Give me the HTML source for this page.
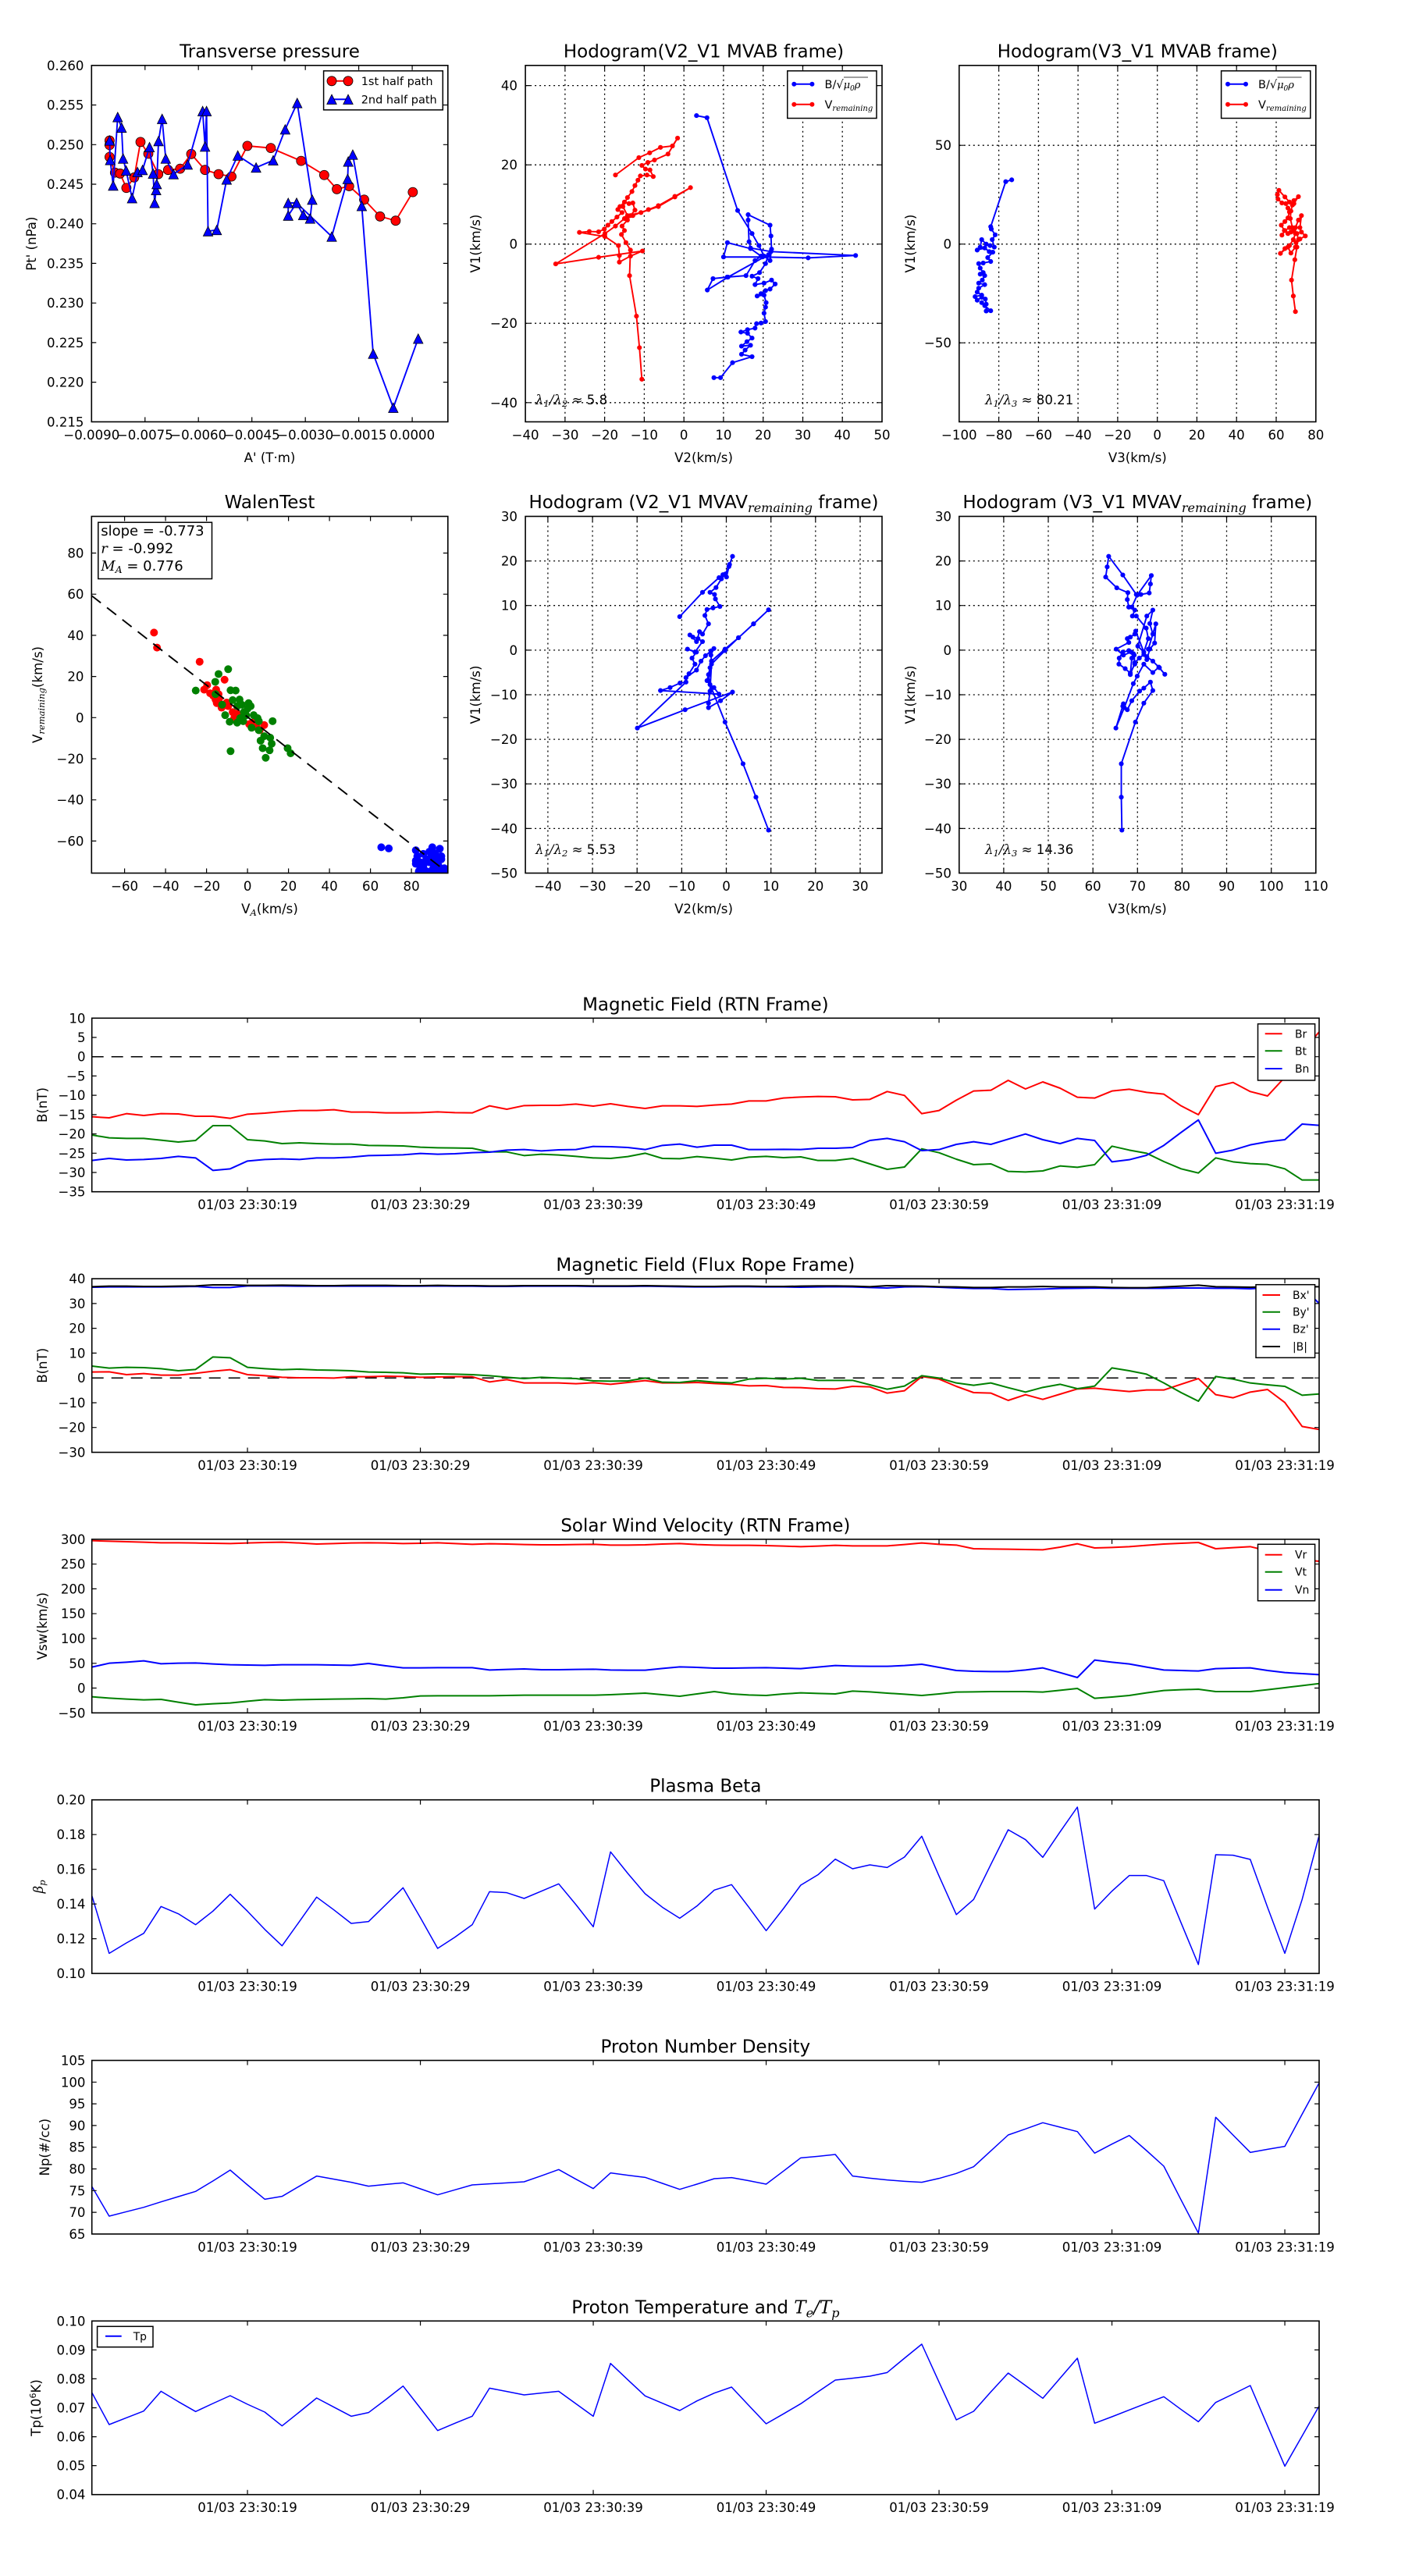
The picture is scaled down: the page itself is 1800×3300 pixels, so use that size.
<!DOCTYPE html>
<html><head><meta charset="utf-8"><style>
html,body{margin:0;padding:0;background:#fff}
svg{display:block}
text{font-family:"DejaVu Sans","Liberation Sans",sans-serif;fill:#000}
.tk{font-size:16.6px}
.tl{font-size:23px;text-anchor:middle}
.lb{font-size:16.6px}
.m{font-family:"DejaVu Serif","Liberation Serif",serif;font-style:italic}
.fr{fill:none;stroke:#000;stroke-width:1.6}
.t{fill:none;stroke:#000;stroke-width:1.2}
.g{fill:none;stroke:#000;stroke-width:1.3;stroke-dasharray:2 4}
.e{text-anchor:end}
.c{text-anchor:middle}
.ts polyline{fill:none;vector-effect:non-scaling-stroke;stroke-linejoin:round}
.lg{fill:#fff;stroke:#000;stroke-width:1.5}
</style></head><body>
<svg width="1800" height="3300" viewBox="0 0 1800 3300" xmlns="http://www.w3.org/2000/svg">
<defs>
<marker id="mc" viewBox="-20 -20 40 40" markerWidth="40" markerHeight="40" markerUnits="userSpaceOnUse" overflow="visible"><circle r="15.6" fill="#f00" stroke="#000" stroke-width="2"/></marker>
<marker id="mt" viewBox="-20 -20 40 40" markerWidth="40" markerHeight="40" markerUnits="userSpaceOnUse" overflow="visible"><path d="M0,-16L16,16L-16,16Z" fill="#00f" stroke="#000" stroke-width="2"/></marker>
<marker id="db" viewBox="-10 -10 20 20" markerWidth="20" markerHeight="20" markerUnits="userSpaceOnUse" overflow="visible"><circle r="8" fill="#00f"/></marker>
<marker id="dr" viewBox="-10 -10 20 20" markerWidth="20" markerHeight="20" markerUnits="userSpaceOnUse" overflow="visible"><circle r="8" fill="#f00"/></marker>
<clipPath id="cA"><rect x="117.3" y="83.8" width="456.5" height="456.6"/></clipPath>
<clipPath id="cD"><rect x="117.3" y="661.5" width="456.5" height="457"/></clipPath>
<clipPath id="cT"><rect x="117.7" y="1290" width="1572.3" height="1920"/></clipPath>
</defs>
<rect width="1800" height="3300" fill="#fff"/>

<!-- ============ PANEL A: Transverse pressure ============ -->
<text class="tl" x="345.5" y="73.5">Transverse pressure</text>
<g clip-path="url(#cA)"><g transform="translate(0,30) scale(0.384615)">
<polyline fill="none" stroke="#f00" stroke-width="5" marker-start="url(#mc)" marker-mid="url(#mc)" marker-end="url(#mc)" points="365,390 365,405 365,445 383,497 400,500 421,548 447,513 468,395 494,434 527,502 560,488 600,484 637,435 683,488 728,502 771,510 824,408 902,415 1003,458 1080,505 1122,552 1163,542 1213,587 1266,643 1318,657 1375,562"/>
<polyline fill="none" stroke="#00f" stroke-width="5" marker-start="url(#mt)" marker-mid="url(#mt)" marker-end="url(#mt)" points="365,390 367,455 377,540 392,312 405,347 410,450 420,490 440,582 458,495 475,488 498,412 510,500 515,598 520,555 522,535 528,392 540,318 552,450 578,502 625,470 675,292 683,410 688,292 693,692 722,688 755,520 792,440 853,480 910,456 950,353 990,265 1040,587 1033,650 1010,638 988,598 960,640 960,598 988,598 1105,710 1158,518 1160,460 1175,437 1205,608 1243,1100 1310,1280 1393,1050"/>
</g></g>
<rect class="fr" x="117.3" y="83.8" width="456.5" height="456.6"/>
<path class="t" d="M185.8,540.4v-6M185.8,83.8v6M254.2,540.4v-6M254.2,83.8v6M322.7,540.4v-6M322.7,83.8v6M391.2,540.4v-6M391.2,83.8v6M459.6,540.4v-6M459.6,83.8v6M528.1,540.4v-6M528.1,83.8v6M117.3,134.5h6M573.8,134.5h-6M117.3,185.3h6M573.8,185.3h-6M117.3,236h6M573.8,236h-6M117.3,286.7h6M573.8,286.7h-6M117.3,337.4h6M573.8,337.4h-6M117.3,388.2h6M573.8,388.2h-6M117.3,438.9h6M573.8,438.9h-6M117.3,489.6h6M573.8,489.6h-6"/>
<g class="tk e">
<text x="107.5" y="89.8">0.260</text><text x="107.5" y="140.5">0.255</text><text x="107.5" y="191.3">0.250</text><text x="107.5" y="242">0.245</text><text x="107.5" y="292.7">0.240</text><text x="107.5" y="343.4">0.235</text><text x="107.5" y="394.2">0.230</text><text x="107.5" y="444.9">0.225</text><text x="107.5" y="495.6">0.220</text><text x="107.5" y="546.4">0.215</text>
</g>
<g class="tk c">
<text x="117.3" y="562.9">−0.0090</text><text x="185.8" y="562.9">−0.0075</text><text x="254.2" y="562.9">−0.0060</text><text x="322.7" y="562.9">−0.0045</text><text x="391.2" y="562.9">−0.0030</text><text x="459.6" y="562.9">−0.0015</text><text x="528.1" y="562.9">0.0000</text>
</g>
<text class="lb c" x="345.5" y="592">A' (T·m)</text>
<text class="lb c" transform="translate(46,312.1) rotate(-90)">Pt' (nPa)</text>
<rect class="lg" x="414.6" y="90.8" width="152.7" height="50"/>
<line x1="425" y1="103.8" x2="446" y2="103.8" stroke="#f00" stroke-width="2"/>
<circle cx="425" cy="103.8" r="6" fill="#f00" stroke="#000" stroke-width="0.8"/><circle cx="446" cy="103.8" r="6" fill="#f00" stroke="#000" stroke-width="0.8"/>
<text x="462.7" y="109" font-size="14.5">1st half path</text>
<line x1="425" y1="127.3" x2="446" y2="127.3" stroke="#00f" stroke-width="2"/>
<path d="M425,121.1l6.2,12.4h-12.4zM446,121.1l6.2,12.4h-12.4z" fill="#00f" stroke="#000" stroke-width="0.8"/>
<text x="462.7" y="132.5" font-size="14.5">2nd half path</text>

<!-- ============ PANEL B: Hodogram V2_V1 MVAB ============ -->
<text class="tl" x="901.5" y="73.5">Hodogram(V2_V1 MVAB frame)</text>
<path class="g" d="M723.9,83.8V540.4M774.6,83.8V540.4M825.4,83.8V540.4M876.2,83.8V540.4M926.9,83.8V540.4M977.7,83.8V540.4M1028.5,83.8V540.4M1079.2,83.8V540.4M673.1,109.6H1130M673.1,211.2H1130M673.1,312.7H1130M673.1,414.2H1130M673.1,515.8H1130"/>
<g transform="translate(600,30) scale(0.384615)">
<polyline fill="none" stroke="#00f" stroke-width="5" marker-start="url(#db)" marker-mid="url(#db)" marker-end="url(#db)" points="760,307 795,314 897,623 945,700 968,740 985,775 1005,790 1010,752 1008,708 1005,672 932,637 932,655 935,727 940,748 1008,760 1290,773 1132,781 980,778 850,778 863,730 940,750 975,775 955,790 925,840 862,845 815,850 796,888 865,845 1000,770 990,800 970,830 945,842 965,850 955,870 985,865 1010,855 1022,868 1005,885 990,890 975,900 962,908 985,905 992,930 990,945 985,965 990,993 975,998 960,1000 955,1015 930,1020 908,1028 930,1032 945,1048 928,1060 910,1075 940,1072 922,1088 910,1102 945,1110 880,1130 840,1180 818,1180"/>
<polyline fill="none" stroke="#f00" stroke-width="5" marker-start="url(#dr)" marker-mid="url(#dr)" marker-end="url(#dr)" points="578,1185 570,1080 560,975 537,840 540,755 525,730 510,703 520,690 512,675 530,655 540,640 555,622 548,598 535,600 520,595 505,610 498,620 512,630 495,645 478,660 465,672 453,685 434,694 403,693 370,696 455,710 500,740 503,773 503,795 540,775 580,758 434,779 291,801 455,700 490,675 520,650 548,640 600,620 633,607 688,576 740,547 688,578 633,610 575,630 530,640 515,610 530,580 545,560 555,540 565,522 573,508 595,505 616,510 605,488 590,485 578,473 598,463 620,455 665,435 697,382 680,408 640,413 604,431 568,447 490,505"/>
</g>
<rect class="fr" x="673.1" y="83.8" width="456.9" height="456.6"/>
<path class="t" d="M723.9,540.4v-6M723.9,83.8v6M774.6,540.4v-6M774.6,83.8v6M825.4,540.4v-6M825.4,83.8v6M876.2,540.4v-6M876.2,83.8v6M926.9,540.4v-6M926.9,83.8v6M977.7,540.4v-6M977.7,83.8v6M1028.5,540.4v-6M1028.5,83.8v6M1079.2,540.4v-6M1079.2,83.8v6M673.1,109.6h6M1130,109.6h-6M673.1,211.2h6M1130,211.2h-6M673.1,312.7h6M1130,312.7h-6M673.1,414.2h6M1130,414.2h-6M673.1,515.8h6M1130,515.8h-6"/>
<g class="tk e"><text x="663" y="115.6">40</text><text x="663" y="217.2">20</text><text x="663" y="318.7">0</text><text x="663" y="420.2">−20</text><text x="663" y="521.8">−40</text></g>
<g class="tk c"><text x="673.1" y="562.9">−40</text><text x="723.9" y="562.9">−30</text><text x="774.6" y="562.9">−20</text><text x="825.4" y="562.9">−10</text><text x="876.2" y="562.9">0</text><text x="926.9" y="562.9">10</text><text x="977.7" y="562.9">20</text><text x="1028.5" y="562.9">30</text><text x="1079.2" y="562.9">40</text><text x="1130" y="562.9">50</text></g>
<text class="lb c" x="901.5" y="592">V2(km/s)</text>
<text class="lb c" transform="translate(615,312.1) rotate(-90)">V1(km/s)</text>
<text x="686" y="518" font-size="16.6"><tspan class="m">λ</tspan><tspan class="m" font-size="11.5" dy="3">1</tspan><tspan class="m" dy="-3">/</tspan><tspan class="m">λ</tspan><tspan class="m" font-size="11.5" dy="3">2</tspan><tspan dy="-3"> ≈ 5.8</tspan></text>
<rect class="lg" x="1008.8" y="90.8" width="114.2" height="60.7"/>
<line x1="1017.3" y1="107.7" x2="1040.4" y2="107.7" stroke="#00f" stroke-width="2"/><circle cx="1017.3" cy="107.7" r="3" fill="#00f"/><circle cx="1040.4" cy="107.7" r="3" fill="#00f"/>
<text x="1056.5" y="113" font-size="14.5">B/√<tspan class="m" font-size="13">μ</tspan><tspan class="m" font-size="9" dy="3">0</tspan><tspan class="m" font-size="13" dy="-3">ρ</tspan></text>
<line x1="1081" y1="99" x2="1112" y2="99" stroke="#000" stroke-width="0.8"/>
<line x1="1017.3" y1="133.8" x2="1040.4" y2="133.8" stroke="#f00" stroke-width="2"/><circle cx="1017.3" cy="133.8" r="3" fill="#f00"/><circle cx="1040.4" cy="133.8" r="3" fill="#f00"/>
<text x="1056.5" y="139" font-size="14.5">V<tspan class="m" font-size="10" dy="3">remaining</tspan></text>

<!-- ============ PANEL C: Hodogram V3_V1 MVAB ============ -->
<text class="tl" x="1457.3" y="73.5">Hodogram(V3_V1 MVAB frame)</text>
<path class="g" d="M1279.6,83.8V540.4M1330.4,83.8V540.4M1381.1,83.8V540.4M1431.9,83.8V540.4M1482.7,83.8V540.4M1533.4,83.8V540.4M1584.2,83.8V540.4M1635,83.8V540.4M1228.8,186.2H1685.8M1228.8,312.7H1685.8M1228.8,439.2H1685.8"/>
<g transform="translate(1200,30) scale(0.384615)">
<polyline fill="none" stroke="#00f" stroke-width="5" marker-start="url(#db)" marker-mid="url(#db)" marker-end="url(#db)" points="250,521 230,527 180,677 182,685 195,704 185,720 192,745 178,740 165,735 150,720 145,745 135,755 160,748 175,760 187,762 170,780 180,793 155,798 140,800 145,815 155,830 145,835 160,840 152,855 140,865 160,870 140,882 135,895 150,905 128,910 135,922 150,912 162,918 165,935 165,958 180,957 160,940 150,930"/>
<polyline fill="none" stroke="#f00" stroke-width="5" marker-start="url(#dr)" marker-mid="url(#dr)" marker-end="url(#dr)" points="1195,960 1188,908 1182,855 1193,787 1200,745 1197,730 1210,718 1228,708 1215,695 1210,680 1215,640 1205,655 1195,680 1180,695 1170,700 1158,690 1148,672 1160,660 1170,648 1175,628 1170,615 1163,600 1150,598 1137,585 1135,570 1140,556 1160,578 1175,595 1190,600 1205,577 1190,590 1185,605 1180,625 1178,650 1185,680 1195,700 1188,720 1175,740 1160,750 1145,766 1170,745 1180,765 1195,745 1205,720 1200,700 1190,690 1175,680 1160,690 1150,705"/>
</g>
<rect class="fr" x="1228.8" y="83.8" width="457" height="456.6"/>
<path class="t" d="M1279.6,540.4v-6M1279.6,83.8v6M1330.4,540.4v-6M1330.4,83.8v6M1381.1,540.4v-6M1381.1,83.8v6M1431.9,540.4v-6M1431.9,83.8v6M1482.7,540.4v-6M1482.7,83.8v6M1533.4,540.4v-6M1533.4,83.8v6M1584.2,540.4v-6M1584.2,83.8v6M1635,540.4v-6M1635,83.8v6M1228.8,186.2h6M1685.8,186.2h-6M1228.8,312.7h6M1685.8,312.7h-6M1228.8,439.2h6M1685.8,439.2h-6"/>
<g class="tk e"><text x="1219" y="192.2">50</text><text x="1219" y="318.7">0</text><text x="1219" y="445.2">−50</text></g>
<g class="tk c"><text x="1228.8" y="562.9">−100</text><text x="1279.6" y="562.9">−80</text><text x="1330.4" y="562.9">−60</text><text x="1381.1" y="562.9">−40</text><text x="1431.9" y="562.9">−20</text><text x="1482.7" y="562.9">0</text><text x="1533.4" y="562.9">20</text><text x="1584.2" y="562.9">40</text><text x="1635" y="562.9">60</text><text x="1685.8" y="562.9">80</text></g>
<text class="lb c" x="1457.3" y="592">V3(km/s)</text>
<text class="lb c" transform="translate(1172,312.1) rotate(-90)">V1(km/s)</text>
<text x="1262" y="518" font-size="16.6"><tspan class="m">λ</tspan><tspan class="m" font-size="11.5" dy="3">1</tspan><tspan class="m" dy="-3">/</tspan><tspan class="m">λ</tspan><tspan class="m" font-size="11.5" dy="3">3</tspan><tspan dy="-3"> ≈ 80.21</tspan></text>
<rect class="lg" x="1564.6" y="90.8" width="114.2" height="60.7"/>
<line x1="1573" y1="107.7" x2="1596" y2="107.7" stroke="#00f" stroke-width="2"/><circle cx="1573" cy="107.7" r="3" fill="#00f"/><circle cx="1596" cy="107.7" r="3" fill="#00f"/>
<text x="1612" y="113" font-size="14.5">B/√<tspan class="m" font-size="13">μ</tspan><tspan class="m" font-size="9" dy="3">0</tspan><tspan class="m" font-size="13" dy="-3">ρ</tspan></text>
<line x1="1636.5" y1="99" x2="1667.5" y2="99" stroke="#000" stroke-width="0.8"/>
<line x1="1573" y1="133.8" x2="1596" y2="133.8" stroke="#f00" stroke-width="2"/><circle cx="1573" cy="133.8" r="3" fill="#f00"/><circle cx="1596" cy="133.8" r="3" fill="#f00"/>
<text x="1612" y="139" font-size="14.5">V<tspan class="m" font-size="10" dy="3">remaining</tspan></text>

<!-- ============ PANEL D: WalenTest ============ -->
<text class="tl" x="345.5" y="651">WalenTest</text>
<g clip-path="url(#cD)"><g transform="translate(0,620) scale(0.384615)">
<g fill="#f00">
<circle cx="513" cy="495" r="13"/><circle cx="523" cy="545" r="13"/><circle cx="665" cy="592" r="13"/><circle cx="748" cy="652" r="13"/><circle cx="690" cy="670" r="13"/><circle cx="680" cy="685" r="13"/><circle cx="700" cy="697" r="13"/><circle cx="720" cy="685" r="13"/><circle cx="728" cy="700" r="13"/><circle cx="718" cy="718" r="13"/><circle cx="722" cy="730" r="13"/><circle cx="738" cy="745" r="13"/><circle cx="760" cy="740" r="13"/><circle cx="775" cy="760" r="13"/><circle cx="790" cy="765" r="13"/><circle cx="780" cy="780" r="13"/><circle cx="795" cy="778" r="13"/><circle cx="830" cy="800" r="13"/><circle cx="855" cy="810" r="13"/><circle cx="880" cy="803" r="13"/><circle cx="865" cy="820" r="13"/><circle cx="840" cy="795" r="13"/><circle cx="710" cy="705" r="13"/><circle cx="730" cy="715" r="13"/><circle cx="755" cy="728" r="13"/>
</g>
<g fill="#008000">
<circle cx="652" cy="688" r="13"/><circle cx="728" cy="633" r="13"/><circle cx="760" cy="617" r="13"/><circle cx="717" cy="659" r="13"/><circle cx="768" cy="687" r="13"/><circle cx="785" cy="688" r="13"/><circle cx="718" cy="700" r="13"/><circle cx="740" cy="735" r="13"/><circle cx="750" cy="770" r="13"/><circle cx="765" cy="792" r="13"/><circle cx="768" cy="890" r="13"/><circle cx="790" cy="795" r="13"/><circle cx="800" cy="780" r="13"/><circle cx="798" cy="718" r="13"/><circle cx="805" cy="735" r="13"/><circle cx="812" cy="760" r="13"/><circle cx="825" cy="748" r="13"/><circle cx="828" cy="730" r="13"/><circle cx="835" cy="740" r="13"/><circle cx="845" cy="770" r="13"/><circle cx="858" cy="780" r="13"/><circle cx="862" cy="790" r="13"/><circle cx="838" cy="812" r="13"/><circle cx="862" cy="820" r="13"/><circle cx="868" cy="855" r="13"/><circle cx="880" cy="840" r="13"/><circle cx="875" cy="880" r="13"/><circle cx="900" cy="845" r="13"/><circle cx="905" cy="865" r="13"/><circle cx="885" cy="912" r="13"/><circle cx="898" cy="887" r="13"/><circle cx="908" cy="790" r="13"/><circle cx="958" cy="880" r="13"/><circle cx="968" cy="897" r="13"/><circle cx="775" cy="720" r="13"/><circle cx="790" cy="740" r="13"/><circle cx="810" cy="790" r="13"/><circle cx="820" cy="770" r="13"/>
</g>
<g fill="#00f">
<circle cx="1270" cy="1210" r="13"/><circle cx="1295" cy="1214" r="13"/><circle cx="1385" cy="1220" r="13"/><circle cx="1390" cy="1240" r="13"/><circle cx="1385" cy="1255" r="13"/><circle cx="1400" cy="1260" r="13"/><circle cx="1410" cy="1275" r="13"/><circle cx="1420" cy="1250" r="13"/><circle cx="1430" cy="1225" r="13"/><circle cx="1440" cy="1210" r="13"/><circle cx="1450" cy="1230" r="13"/><circle cx="1465" cy="1215" r="13"/><circle cx="1470" cy="1250" r="13"/><circle cx="1460" cy="1270" r="13"/><circle cx="1480" cy="1280" r="13"/><circle cx="1490" cy="1285" r="13"/><circle cx="1440" cy="1285" r="13"/><circle cx="1420" cy="1290" r="13"/><circle cx="1400" cy="1280" r="13"/><circle cx="1395" cy="1290" r="13"/><circle cx="1430" cy="1260" r="13"/><circle cx="1450" cy="1260" r="13"/><circle cx="1470" cy="1240" r="13"/><circle cx="1410" cy="1232" r="13"/><circle cx="1385" cy="1265" r="13"/><circle cx="1475" cy="1292" r="13"/><circle cx="1455" cy="1245" r="13"/><circle cx="1435" cy="1245" r="13"/><circle cx="1415" cy="1262" r="13"/><circle cx="1445" cy="1272" r="13"/><circle cx="1462" cy="1290" r="13"/>
</g>
<path d="M305,372L1475,1282" stroke="#000" stroke-width="5" stroke-dasharray="39 26" fill="none"/>
</g></g>
<rect class="fr" x="117.3" y="661.5" width="456.5" height="457"/>
<path class="t" d="M159.6,1118.5v-6M159.6,661.5v6M212.1,1118.5v-6M212.1,661.5v6M264.6,1118.5v-6M264.6,661.5v6M317.1,1118.5v-6M317.1,661.5v6M369.6,1118.5v-6M369.6,661.5v6M422.1,1118.5v-6M422.1,661.5v6M474.6,1118.5v-6M474.6,661.5v6M527.1,1118.5v-6M527.1,661.5v6M117.3,708.5h6M573.8,708.5h-6M117.3,761.2h6M573.8,761.2h-6M117.3,813.9h6M573.8,813.9h-6M117.3,866.6h6M573.8,866.6h-6M117.3,919.3h6M573.8,919.3h-6M117.3,972h6M573.8,972h-6M117.3,1024.7h6M573.8,1024.7h-6M117.3,1077.4h6M573.8,1077.4h-6"/>
<g class="tk e"><text x="107.5" y="714.5">80</text><text x="107.5" y="767.2">60</text><text x="107.5" y="819.9">40</text><text x="107.5" y="872.6">20</text><text x="107.5" y="925.3">0</text><text x="107.5" y="978">−20</text><text x="107.5" y="1030.7">−40</text><text x="107.5" y="1083.4">−60</text></g>
<g class="tk c"><text x="159.6" y="1140.9">−60</text><text x="212.1" y="1140.9">−40</text><text x="264.6" y="1140.9">−20</text><text x="317.1" y="1140.9">0</text><text x="369.6" y="1140.9">20</text><text x="422.1" y="1140.9">40</text><text x="474.6" y="1140.9">60</text><text x="527.1" y="1140.9">80</text></g>
<text class="lb c" x="345.5" y="1170">V<tspan class="m" font-size="11.5" dy="3">A</tspan><tspan dy="-3">(km/s)</tspan></text>
<text class="lb c" transform="translate(54,890) rotate(-90)">V<tspan class="m" font-size="11.5" dy="3">remaining</tspan><tspan dy="-3">(km/s)</tspan></text>
<rect class="lg" x="125.8" y="669.2" width="145.7" height="72.3"/>
<text x="129.2" y="686" font-size="18">slope = -0.773</text>
<text x="129.2" y="708.5" font-size="18"><tspan class="m">r</tspan> = -0.992</text>
<text x="129.2" y="730.8" font-size="18"><tspan class="m">M</tspan><tspan class="m" font-size="12.5" dy="3">A</tspan><tspan dy="-3"> = 0.776</tspan></text>

<!-- ============ PANEL E: Hodogram V2_V1 MVAV ============ -->
<text class="tl" x="901.5" y="651">Hodogram (V2_V1 MVAV<tspan class="m" font-size="16" dy="5">remaining</tspan><tspan dy="-5"> frame)</tspan></text>
<path class="g" d="M701.9,661.5V1118.5M759.1,661.5V1118.5M816.2,661.5V1118.5M873.4,661.5V1118.5M930.5,661.5V1118.5M987.7,661.5V1118.5M1044.8,661.5V1118.5M1102,661.5V1118.5M673.1,718.6H1130M673.1,775.7H1130M673.1,832.9H1130M673.1,890H1130M673.1,947.1H1130M673.1,1004.2H1130M673.1,1061.4H1130"/>
<g transform="translate(600,620) scale(0.384615)">
<polyline fill="none" stroke="#00f" stroke-width="5" marker-start="url(#db)" marker-mid="url(#db)" marker-end="url(#db)" points="704,442 780,361 835,312 848,302 860,310 868,275 880,241 870,268 856,300 843,316 825,345 805,361 820,368 823,383 838,408 815,413 795,418 788,438 800,466 780,500 770,492 760,525 738,503 748,510 765,515 780,525 755,560 730,550 760,560 745,580 755,600 735,632 725,645 760,620 775,590 790,572 808,556 818,548 808,570 810,590 805,612 800,635 795,655 805,668 818,678 835,700 640,688 672,678 705,663 725,660 563,813 722,752 880,693 840,722 800,745 800,730 805,690 810,600 855,555 900,512 950,466 1000,419 950,466 900,512 855,550 810,590 800,655 855,793 915,932 958,1043 1000,1153"/>
</g>
<rect class="fr" x="673.1" y="661.5" width="456.9" height="457"/>
<path class="t" d="M701.9,1118.5v-6M701.9,661.5v6M759.1,1118.5v-6M759.1,661.5v6M816.2,1118.5v-6M816.2,661.5v6M873.4,1118.5v-6M873.4,661.5v6M930.5,1118.5v-6M930.5,661.5v6M987.7,1118.5v-6M987.7,661.5v6M1044.8,1118.5v-6M1044.8,661.5v6M1102,1118.5v-6M1102,661.5v6M673.1,718.6h6M1130,718.6h-6M673.1,775.7h6M1130,775.7h-6M673.1,832.9h6M1130,832.9h-6M673.1,890h6M1130,890h-6M673.1,947.1h6M1130,947.1h-6M673.1,1004.2h6M1130,1004.2h-6M673.1,1061.4h6M1130,1061.4h-6"/>
<g class="tk e"><text x="663" y="667.5">30</text><text x="663" y="724.6">20</text><text x="663" y="781.7">10</text><text x="663" y="838.9">0</text><text x="663" y="896">−10</text><text x="663" y="953.1">−20</text><text x="663" y="1010.2">−30</text><text x="663" y="1067.4">−40</text><text x="663" y="1124.5">−50</text></g>
<g class="tk c"><text x="701.9" y="1140.9">−40</text><text x="759.1" y="1140.9">−30</text><text x="816.2" y="1140.9">−20</text><text x="873.4" y="1140.9">−10</text><text x="930.5" y="1140.9">0</text><text x="987.7" y="1140.9">10</text><text x="1044.8" y="1140.9">20</text><text x="1102" y="1140.9">30</text></g>
<text class="lb c" x="901.5" y="1170">V2(km/s)</text>
<text class="lb c" transform="translate(615,890) rotate(-90)">V1(km/s)</text>
<text x="686" y="1094" font-size="16.6"><tspan class="m">λ</tspan><tspan class="m" font-size="11.5" dy="3">1</tspan><tspan class="m" dy="-3">/</tspan><tspan class="m">λ</tspan><tspan class="m" font-size="11.5" dy="3">2</tspan><tspan dy="-3"> ≈ 5.53</tspan></text>

<!-- ============ PANEL F: Hodogram V3_V1 MVAV ============ -->
<text class="tl" x="1457.3" y="651">Hodogram (V3_V1 MVAV<tspan class="m" font-size="16" dy="5">remaining</tspan><tspan dy="-5"> frame)</tspan></text>
<path class="g" d="M1285.9,661.5V1118.5M1343,661.5V1118.5M1400.2,661.5V1118.5M1457.3,661.5V1118.5M1514.4,661.5V1118.5M1571.5,661.5V1118.5M1628.7,661.5V1118.5M1228.8,718.6H1685.8M1228.8,775.7H1685.8M1228.8,832.9H1685.8M1228.8,890H1685.8M1228.8,947.1H1685.8M1228.8,1004.2H1685.8M1228.8,1061.4H1685.8"/>
<g transform="translate(1200,620) scale(0.384615)">
<polyline fill="none" stroke="#00f" stroke-width="5" marker-start="url(#db)" marker-mid="url(#db)" marker-end="url(#db)" points="617,1153 615,1043 615,932 662,793 690,730 720,688 712,660 690,680 676,690 650,722 635,752 620,740 622,732 597,813 625,745 655,665 668,640 690,600 720,628 740,610 760,634 742,612 720,590 700,575 690,568 675,580 660,595 645,635 650,580 655,565 640,555 620,560 608,580 607,600 628,615 645,630 660,600 658,570 648,560 622,570 598,550 640,528 635,515 645,510 660,500 663,490 700,585 710,550 726,530 730,466 705,550 720,500 710,465 720,420 700,440 670,540 690,560 705,515 698,480 665,440 652,440 660,420 640,410 635,385 637,362 600,346 563,310 568,276 573,241 620,303 665,368 680,368 708,363 712,333 715,305 668,370 650,410 640,410"/>
</g>
<rect class="fr" x="1228.8" y="661.5" width="457" height="457"/>
<path class="t" d="M1285.9,1118.5v-6M1285.9,661.5v6M1343,1118.5v-6M1343,661.5v6M1400.2,1118.5v-6M1400.2,661.5v6M1457.3,1118.5v-6M1457.3,661.5v6M1514.4,1118.5v-6M1514.4,661.5v6M1571.5,1118.5v-6M1571.5,661.5v6M1628.7,1118.5v-6M1628.7,661.5v6M1228.8,718.6h6M1685.8,718.6h-6M1228.8,775.7h6M1685.8,775.7h-6M1228.8,832.9h6M1685.8,832.9h-6M1228.8,890h6M1685.8,890h-6M1228.8,947.1h6M1685.8,947.1h-6M1228.8,1004.2h6M1685.8,1004.2h-6M1228.8,1061.4h6M1685.8,1061.4h-6"/>
<g class="tk e"><text x="1219" y="667.5">30</text><text x="1219" y="724.6">20</text><text x="1219" y="781.7">10</text><text x="1219" y="838.9">0</text><text x="1219" y="896">−10</text><text x="1219" y="953.1">−20</text><text x="1219" y="1010.2">−30</text><text x="1219" y="1067.4">−40</text><text x="1219" y="1124.5">−50</text></g>
<g class="tk c"><text x="1228.8" y="1140.9">30</text><text x="1285.9" y="1140.9">40</text><text x="1343" y="1140.9">50</text><text x="1400.2" y="1140.9">60</text><text x="1457.3" y="1140.9">70</text><text x="1514.4" y="1140.9">80</text><text x="1571.5" y="1140.9">90</text><text x="1628.7" y="1140.9">100</text><text x="1685.8" y="1140.9">110</text></g>
<text class="lb c" x="1457.3" y="1170">V3(km/s)</text>
<text class="lb c" transform="translate(1172,890) rotate(-90)">V1(km/s)</text>
<text x="1262" y="1094" font-size="16.6"><tspan class="m">λ</tspan><tspan class="m" font-size="11.5" dy="3">1</tspan><tspan class="m" dy="-3">/</tspan><tspan class="m">λ</tspan><tspan class="m" font-size="11.5" dy="3">3</tspan><tspan dy="-3"> ≈ 14.36</tspan></text>

<!-- ============ TIME SERIES ============ -->
<g clip-path="url(#cT)">
<!-- RTN -->
<line x1="117.7" y1="1353.7" x2="1690" y2="1353.7" stroke="#000" stroke-width="1.5" stroke-dasharray="15 10"/>
<g class="ts" transform="translate(117.7,1280) scale(22.15,0.333333)">
<polyline stroke="#f00" stroke-width="2" points="0,452 1,456 2,440 3,447 4,440 5,441 6,450 7,450 8,458 9,442 10,438 11,432 12,428 13,428 14,425 15,434 16,434 17,437 18,437 19,436 20,433 21,436 22,437 23,410 24,423 25,409 26,408 27,408 28,403 29,411 30,402 31,412 32,420 33,410 34,410 35,412 36,407 37,403 38,391 39,391 40,380 41,376 42,374 43,375 44,387 45,385 46,355 47,370 48,440 49,428 50,388 51,353 52,350 53,312 54,345 55,318 56,342 57,377 58,380 59,353 60,346 61,358 62,365 63,410 64,444 65,336 66,320 67,355 68,372 69,300 70,200 71,125"/>
<polyline stroke="#008000" stroke-width="2" points="0,522 1,533 2,535 3,535 4,542 5,549 6,543 7,486 8,486 9,540 10,545 11,555 12,552 13,555 14,557 15,557 16,562 17,563 18,564 19,569 20,571 21,572 22,573 23,587 24,587 25,601 26,596 27,599 28,604 29,610 30,612 31,605 32,592 33,612 34,613 35,605 36,611 37,618 38,607 39,604 40,609 41,606 42,620 43,620 44,612 45,633 46,654 47,645 48,575 49,590 50,615 51,636 52,633 53,662 54,664 55,660 56,641 57,646 58,636 59,565 60,580 61,592 62,624 63,652 64,668 65,610 66,625 67,632 68,635 69,652 70,695 71,695"/>
<polyline stroke="#00f" stroke-width="2" points="0,620 1,612 2,618 3,616 4,612 5,604 6,610 7,658 8,652 9,622 10,616 11,614 12,616 13,610 14,610 15,607 16,601 17,600 18,598 19,593 20,596 21,594 22,590 23,588 24,580 25,578 26,583 27,579 28,578 29,566 30,567 31,570 32,578 33,562 34,557 35,569 36,561 37,561 38,578 39,578 40,577 41,578 42,573 43,573 44,570 45,543 46,535 47,548 48,582 49,578 50,558 51,548 52,558 53,538 54,518 55,540 56,555 57,535 58,543 59,625 60,617 61,600 62,562 63,512 64,464 65,592 66,580 67,560 68,548 69,540 70,480 71,485"/>
</g>
<!-- Flux rope -->
<line x1="117.7" y1="1765.2" x2="1690" y2="1765.2" stroke="#000" stroke-width="1.5" stroke-dasharray="15 10"/>
<g class="ts" transform="translate(117.7,1620) scale(22.15,0.333333)">
<polyline stroke="#f00" stroke-width="2" points="0,413 1,412 2,423 3,419 4,425 5,425 6,418 7,410 8,404 9,423 10,427 11,433 12,435 13,435 14,436 15,431 16,431 17,429 18,430 19,433 20,432 21,431 22,431 23,451 24,442 25,455 26,455 27,455 28,458 29,454 30,460 31,453 32,446 33,455 34,455 35,453 36,457 37,460 38,466 39,465 40,472 41,473 42,477 43,478 44,468 45,470 46,494 47,485 48,430 49,440 50,468 51,492 52,494 53,522 54,500 55,518 56,498 57,478 58,475 59,482 60,488 61,482 62,482 63,460 64,438 65,500 66,512 67,490 68,480 69,530 70,622 71,634"/>
<polyline stroke="#008000" stroke-width="2" points="0,390 1,398 2,395 3,396 4,400 5,408 6,403 7,355 8,358 9,395 10,400 11,404 12,402 13,405 14,406 15,408 16,413 17,414 18,416 19,421 20,420 21,421 22,423 23,427 24,433 25,438 26,433 27,436 28,438 29,447 30,448 31,447 32,436 33,452 34,453 35,446 36,452 37,455 38,440 39,437 40,440 41,437 42,445 43,445 44,445 45,462 46,479 47,467 48,427 49,436 50,455 51,464 52,455 53,473 54,490 55,472 56,460 57,477 58,467 59,397 60,408 61,421 62,455 63,492 64,525 65,430 66,440 67,455 68,462 69,468 70,502 71,497"/>
<polyline stroke="#00f" stroke-width="2" points="0,87 1,86 2,86 3,86 4,86 5,85 6,84 7,88 8,88 9,82 10,82 11,82 12,83 13,83 14,83 15,83 16,83 17,83 18,83 19,83 20,82 21,83 22,83 23,84 24,84 25,83 26,83 27,83 28,83 29,84 30,84 31,84 32,83 33,84 34,85 35,86 36,86 37,85 38,85 39,86 40,86 41,87 42,86 43,85 44,86 45,88 46,90 47,86 48,85 49,87 50,90 51,92 52,92 53,96 54,95 55,94 56,92 57,91 58,90 59,91 60,91 61,91 62,91 63,90 64,90 65,91 66,91 67,93 68,89 69,88 70,88 71,150"/>
<polyline stroke="#000" stroke-width="2" points="0,85 1,83 2,83 3,84 4,84 5,83 6,82 7,78 8,78 9,80 10,80 11,79 12,80 13,81 14,81 15,80 16,80 17,80 18,81 19,81 20,80 21,81 22,81 23,82 24,82 25,81 26,81 27,81 28,81 29,82 30,82 31,82 32,81 33,82 34,83 35,84 36,84 37,83 38,83 39,84 40,84 41,83 42,82 43,82 44,83 45,85 46,81 47,82 48,83 49,85 50,86 51,88 52,88 53,86 54,86 55,84 56,86 57,86 58,86 59,88 60,89 61,89 62,86 63,83 64,79 65,85 66,86 67,87 68,85 69,85 70,85 71,85"/>
</g>
<!-- Solar wind -->
<g class="ts" transform="translate(117.7,1960) scale(22.15,0.333333)">
<polyline stroke="#f00" stroke-width="2" points="0,41 1,43 2,45 3,47 4,49 5,49 6,50 7,51 8,52 9,50 10,48 11,47 12,50 13,54 14,52 15,50 16,49 17,50 18,52 19,51 20,49 21,52 22,55 23,53 24,54 25,56 26,57 27,57 28,56 29,55 30,58 31,58 32,57 33,54 34,52 35,56 36,58 37,59 38,59 39,60 40,62 41,64 42,62 43,59 44,61 45,61 46,61 47,56 48,50 49,55 50,58 51,72 52,73 53,74 54,75 55,76 56,66 57,53 58,69 59,67 60,64 61,59 62,54 63,51 64,48 65,72 66,68 67,64 68,80 69,100 70,115 71,120"/>
<polyline stroke="#008000" stroke-width="2" points="0,641 1,646 2,650 3,653 4,651 5,662 6,672 7,668 8,665 9,658 10,652 11,654 12,652 13,651 14,650 15,649 16,648 17,650 18,645 19,638 20,637 21,637 22,637 23,637 24,636 25,635 26,635 27,635 28,635 29,635 30,633 31,630 32,627 33,633 34,639 35,630 36,621 37,630 38,634 39,636 40,630 41,626 42,628 43,630 44,619 45,622 46,627 47,631 48,636 49,630 50,623 51,622 52,621 53,621 54,621 55,623 56,616 57,609 58,647 59,642 60,636 61,626 62,617 63,614 64,612 65,621 66,621 67,621 68,614 69,606 70,598 71,590"/>
<polyline stroke="#00f" stroke-width="2" points="0,527 1,512 2,508 3,503 4,514 5,512 6,511 7,515 8,518 9,519 10,520 11,518 12,518 13,518 14,519 15,520 16,513 17,522 18,530 19,530 20,529 21,529 22,529 23,538 24,536 25,534 26,537 27,537 28,536 29,535 30,538 31,539 32,539 33,532 34,526 35,528 36,531 37,531 38,530 39,529 40,531 41,533 42,527 43,521 44,523 45,524 46,524 47,521 48,516 49,528 50,540 51,543 52,544 53,544 54,538 55,530 56,548 57,567 58,500 59,508 60,515 61,527 62,538 63,540 64,542 65,533 66,531 67,530 68,540 69,548 70,552 71,556"/>
</g>
<!-- Beta -->
<g class="ts" transform="translate(117.7,2300) scale(22.15,0.333333)">
<polyline stroke="#00f" stroke-width="1.5" points="0,385 1,607 2,567 3,530 4,427 5,455 6,497 7,445 8,380 9,445 10,515 11,578 12,485 13,391 14,440 15,492 16,485 17,420 18,355 19,470 20,588 21,545 22,497 23,370 24,374 25,396 26,368 27,340 28,420 29,505 30,217 31,300 32,378 33,430 34,472 35,425 36,364 37,343 38,430 39,520 40,435 41,345 42,305 43,245 44,282 45,267 46,277 47,237 48,157 49,310 50,458 51,400 52,265 53,132 54,170 55,238 56,140 57,45 58,437 59,368 60,308 61,308 62,328 63,490 64,650 65,228 66,230 67,246 68,430 69,607 70,400 71,150"/>
</g>
<!-- Density -->
<g class="ts" transform="translate(117.7,2640) scale(22.15,0.333333)">
<polyline stroke="#00f" stroke-width="1.5" points="0,483 1,597 2,580 3,563 4,542 5,522 6,502 7,462 8,420 9,477 10,532 11,521 12,482 13,443 14,455 15,467 16,482 17,475 18,469 19,492 20,515 21,496 22,477 23,473 24,469 25,465 26,442 27,418 28,455 29,491 30,431 31,440 32,448 33,471 34,494 35,474 36,453 37,449 38,461 39,474 40,424 41,373 42,367 43,360 44,443 45,451 46,458 47,463 48,467 49,452 50,433 51,407 52,346 53,285 54,262 55,238 56,255 57,272 58,355 59,320 60,287 61,345 62,405 63,535 64,662 65,217 66,285 67,352 68,340 69,329 70,205 71,83"/>
</g>
<!-- Temperature -->
<g class="ts" transform="translate(117.7,2980) scale(22.15,0.333333)">
<polyline stroke="#00f" stroke-width="1.5" points="0,255 1,378 2,352 3,326 4,250 5,290 6,328 7,297 8,267 9,300 10,330 11,383 12,330 13,276 14,311 15,346 16,332 17,282 18,230 19,315 20,401 21,373 22,346 23,238 24,251 25,264 26,257 27,250 28,298 29,346 30,143 31,206 32,268 33,296 34,324 35,287 36,257 37,234 38,305 39,375 40,337 41,298 42,252 43,207 44,200 45,192 46,178 47,123 48,69 49,215 50,360 51,327 52,252 53,180 54,228 55,277 56,200 57,123 58,373 59,348 60,322 61,296 62,271 63,320 64,367 65,293 66,261 67,228 68,383 69,538 70,422 71,305"/>
</g>
</g>

<!-- Time series frames / ticks / labels -->
<g>
<rect class="fr" x="117.7" y="1304.3" width="1572.3" height="222.4"/>
<rect class="fr" x="117.7" y="1638.1" width="1572.3" height="222.4"/>
<rect class="fr" x="117.7" y="1971.9" width="1572.3" height="222.4"/>
<rect class="fr" x="117.7" y="2305.7" width="1572.3" height="222.4"/>
<rect class="fr" x="117.7" y="2639.5" width="1572.3" height="222.4"/>
<rect class="fr" x="117.7" y="2973.3" width="1572.3" height="222.4"/>
</g>
<path class="t" d="M317.05,1526.7v-6M317.05,1304.3v6M538.55,1526.7v-6M538.55,1304.3v6M760.05,1526.7v-6M760.05,1304.3v6M981.55,1526.7v-6M981.55,1304.3v6M1203.05,1526.7v-6M1203.05,1304.3v6M1424.55,1526.7v-6M1424.55,1304.3v6M1646.05,1526.7v-6M1646.05,1304.3v6
M317.05,1860.5v-6M317.05,1638.1v6M538.55,1860.5v-6M538.55,1638.1v6M760.05,1860.5v-6M760.05,1638.1v6M981.55,1860.5v-6M981.55,1638.1v6M1203.05,1860.5v-6M1203.05,1638.1v6M1424.55,1860.5v-6M1424.55,1638.1v6M1646.05,1860.5v-6M1646.05,1638.1v6
M317.05,2194.3v-6M317.05,1971.9v6M538.55,2194.3v-6M538.55,1971.9v6M760.05,2194.3v-6M760.05,1971.9v6M981.55,2194.3v-6M981.55,1971.9v6M1203.05,2194.3v-6M1203.05,1971.9v6M1424.55,2194.3v-6M1424.55,1971.9v6M1646.05,2194.3v-6M1646.05,1971.9v6
M317.05,2528.1v-6M317.05,2305.7v6M538.55,2528.1v-6M538.55,2305.7v6M760.05,2528.1v-6M760.05,2305.7v6M981.55,2528.1v-6M981.55,2305.7v6M1203.05,2528.1v-6M1203.05,2305.7v6M1424.55,2528.1v-6M1424.55,2305.7v6M1646.05,2528.1v-6M1646.05,2305.7v6
M317.05,2861.9v-6M317.05,2639.5v6M538.55,2861.9v-6M538.55,2639.5v6M760.05,2861.9v-6M760.05,2639.5v6M981.55,2861.9v-6M981.55,2639.5v6M1203.05,2861.9v-6M1203.05,2639.5v6M1424.55,2861.9v-6M1424.55,2639.5v6M1646.05,2861.9v-6M1646.05,2639.5v6
M317.05,3195.7v-6M317.05,2973.3v6M538.55,3195.7v-6M538.55,2973.3v6M760.05,3195.7v-6M760.05,2973.3v6M981.55,3195.7v-6M981.55,2973.3v6M1203.05,3195.7v-6M1203.05,2973.3v6M1424.55,3195.7v-6M1424.55,2973.3v6M1646.05,3195.7v-6M1646.05,2973.3v6
M117.7,1329h6M1690,1329h-6M117.7,1353.7h6M1690,1353.7h-6M117.7,1378.4h6M1690,1378.4h-6M117.7,1403.1h6M1690,1403.1h-6M117.7,1427.9h6M1690,1427.9h-6M117.7,1452.6h6M1690,1452.6h-6M117.7,1477.3h6M1690,1477.3h-6M117.7,1502h6M1690,1502h-6
M117.7,1669.9h6M1690,1669.9h-6M117.7,1701.6h6M1690,1701.6h-6M117.7,1733.4h6M1690,1733.4h-6M117.7,1765.2h6M1690,1765.2h-6M117.7,1797h6M1690,1797h-6M117.7,1828.7h6M1690,1828.7h-6
M117.7,2003.7h6M1690,2003.7h-6M117.7,2035.4h6M1690,2035.4h-6M117.7,2067.2h6M1690,2067.2h-6M117.7,2099h6M1690,2099h-6M117.7,2130.8h6M1690,2130.8h-6M117.7,2162.5h6M1690,2162.5h-6
M117.7,2350.2h6M1690,2350.2h-6M117.7,2394.7h6M1690,2394.7h-6M117.7,2439.1h6M1690,2439.1h-6M117.7,2483.6h6M1690,2483.6h-6
M117.7,2667.3h6M1690,2667.3h-6M117.7,2695.1h6M1690,2695.1h-6M117.7,2722.9h6M1690,2722.9h-6M117.7,2750.7h6M1690,2750.7h-6M117.7,2778.5h6M1690,2778.5h-6M117.7,2806.3h6M1690,2806.3h-6M117.7,2834.1h6M1690,2834.1h-6
M117.7,3010.4h6M1690,3010.4h-6M117.7,3047.4h6M1690,3047.4h-6M117.7,3084.5h6M1690,3084.5h-6M117.7,3121.6h6M1690,3121.6h-6M117.7,3158.6h6M1690,3158.6h-6"/>

<!-- Titles -->
<text class="tl" x="903.85" y="1294.3">Magnetic Field (RTN Frame)</text>
<text class="tl" x="903.85" y="1628.1">Magnetic Field (Flux Rope Frame)</text>
<text class="tl" x="903.85" y="1961.9">Solar Wind Velocity (RTN Frame)</text>
<text class="tl" x="903.85" y="2295.7">Plasma Beta</text>
<text class="tl" x="903.85" y="2629.5">Proton Number Density</text>
<text class="tl" x="903.85" y="2963.3">Proton Temperature and <tspan class="m">T</tspan><tspan class="m" font-size="16" dy="5">e</tspan><tspan class="m" dy="-5">/T</tspan><tspan class="m" font-size="16" dy="5">p</tspan></text>

<!-- Y tick labels -->
<g class="tk e">
<text x="109.5" y="1310.3">10</text><text x="109.5" y="1335">5</text><text x="109.5" y="1359.7">0</text><text x="109.5" y="1384.4">−5</text><text x="109.5" y="1409.1">−10</text><text x="109.5" y="1433.9">−15</text><text x="109.5" y="1458.6">−20</text><text x="109.5" y="1483.3">−25</text><text x="109.5" y="1508">−30</text><text x="109.5" y="1532.7">−35</text>
<text x="109.5" y="1644.1">40</text><text x="109.5" y="1675.9">30</text><text x="109.5" y="1707.6">20</text><text x="109.5" y="1739.4">10</text><text x="109.5" y="1771.2">0</text><text x="109.5" y="1803">−10</text><text x="109.5" y="1834.7">−20</text><text x="109.5" y="1866.5">−30</text>
<text x="109.5" y="1977.9">300</text><text x="109.5" y="2009.7">250</text><text x="109.5" y="2041.4">200</text><text x="109.5" y="2073.2">150</text><text x="109.5" y="2105">100</text><text x="109.5" y="2136.8">50</text><text x="109.5" y="2168.5">0</text><text x="109.5" y="2200.3">−50</text>
<text x="109.5" y="2311.7">0.20</text><text x="109.5" y="2356.2">0.18</text><text x="109.5" y="2400.7">0.16</text><text x="109.5" y="2445.1">0.14</text><text x="109.5" y="2489.6">0.12</text><text x="109.5" y="2534.1">0.10</text>
<text x="109.5" y="2645.5">105</text><text x="109.5" y="2673.3">100</text><text x="109.5" y="2701.1">95</text><text x="109.5" y="2728.9">90</text><text x="109.5" y="2756.7">85</text><text x="109.5" y="2784.5">80</text><text x="109.5" y="2812.3">75</text><text x="109.5" y="2840.1">70</text><text x="109.5" y="2867.9">65</text>
<text x="109.5" y="2979.3">0.10</text><text x="109.5" y="3016.4">0.09</text><text x="109.5" y="3053.4">0.08</text><text x="109.5" y="3090.5">0.07</text><text x="109.5" y="3127.6">0.06</text><text x="109.5" y="3164.6">0.05</text><text x="109.5" y="3201.7">0.04</text>
</g>

<!-- X tick labels -->
<g class="tk c">
<text x="317.05" y="1549.2">01/03 23:30:19</text><text x="538.55" y="1549.2">01/03 23:30:29</text><text x="760.05" y="1549.2">01/03 23:30:39</text><text x="981.55" y="1549.2">01/03 23:30:49</text><text x="1203.05" y="1549.2">01/03 23:30:59</text><text x="1424.55" y="1549.2">01/03 23:31:09</text><text x="1646.05" y="1549.2">01/03 23:31:19</text>
<text x="317.05" y="1883">01/03 23:30:19</text><text x="538.55" y="1883">01/03 23:30:29</text><text x="760.05" y="1883">01/03 23:30:39</text><text x="981.55" y="1883">01/03 23:30:49</text><text x="1203.05" y="1883">01/03 23:30:59</text><text x="1424.55" y="1883">01/03 23:31:09</text><text x="1646.05" y="1883">01/03 23:31:19</text>
<text x="317.05" y="2216.8">01/03 23:30:19</text><text x="538.55" y="2216.8">01/03 23:30:29</text><text x="760.05" y="2216.8">01/03 23:30:39</text><text x="981.55" y="2216.8">01/03 23:30:49</text><text x="1203.05" y="2216.8">01/03 23:30:59</text><text x="1424.55" y="2216.8">01/03 23:31:09</text><text x="1646.05" y="2216.8">01/03 23:31:19</text>
<text x="317.05" y="2550.6">01/03 23:30:19</text><text x="538.55" y="2550.6">01/03 23:30:29</text><text x="760.05" y="2550.6">01/03 23:30:39</text><text x="981.55" y="2550.6">01/03 23:30:49</text><text x="1203.05" y="2550.6">01/03 23:30:59</text><text x="1424.55" y="2550.6">01/03 23:31:09</text><text x="1646.05" y="2550.6">01/03 23:31:19</text>
<text x="317.05" y="2884.4">01/03 23:30:19</text><text x="538.55" y="2884.4">01/03 23:30:29</text><text x="760.05" y="2884.4">01/03 23:30:39</text><text x="981.55" y="2884.4">01/03 23:30:49</text><text x="1203.05" y="2884.4">01/03 23:30:59</text><text x="1424.55" y="2884.4">01/03 23:31:09</text><text x="1646.05" y="2884.4">01/03 23:31:19</text>
<text x="317.05" y="3218.2">01/03 23:30:19</text><text x="538.55" y="3218.2">01/03 23:30:29</text><text x="760.05" y="3218.2">01/03 23:30:39</text><text x="981.55" y="3218.2">01/03 23:30:49</text><text x="1203.05" y="3218.2">01/03 23:30:59</text><text x="1424.55" y="3218.2">01/03 23:31:09</text><text x="1646.05" y="3218.2">01/03 23:31:19</text>
</g>

<!-- Y axis labels -->
<text class="lb c" transform="translate(60,1415.5) rotate(-90)">B(nT)</text>
<text class="lb c" transform="translate(60,1749.3) rotate(-90)">B(nT)</text>
<text class="lb c" transform="translate(60,2083.1) rotate(-90)">Vsw(km/s)</text>
<text class="lb c" transform="translate(55,2416.9) rotate(-90)"><tspan class="m">β</tspan><tspan class="m" font-size="11.5" dy="3">p</tspan></text>
<text class="lb c" transform="translate(63,2750.7) rotate(-90)">Np(#/cc)</text>
<text class="lb c" transform="translate(52,3084.5) rotate(-90)">Tp(10<tspan font-size="11" dy="-6">6</tspan><tspan dy="6">K)</tspan></text>

<!-- Legends -->
<rect class="lg" x="1611.5" y="1311.7" width="73.1" height="72.3"/>
<line x1="1620.7" y1="1324.3" x2="1642.6" y2="1324.3" stroke="#f00" stroke-width="2"/><text x="1659" y="1329.3" font-size="13.9">Br</text>
<line x1="1620.7" y1="1346.3" x2="1642.6" y2="1346.3" stroke="#008000" stroke-width="2"/><text x="1659" y="1351.3" font-size="13.9">Bt</text>
<line x1="1620.7" y1="1369" x2="1642.6" y2="1369" stroke="#00f" stroke-width="2"/><text x="1659" y="1374" font-size="13.9">Bn</text>

<rect class="lg" x="1609" y="1645.7" width="75.6" height="93.6"/>
<line x1="1617.5" y1="1659" x2="1640" y2="1659" stroke="#f00" stroke-width="2"/><text x="1656" y="1664" font-size="13.9">Bx'</text>
<line x1="1617.5" y1="1680.7" x2="1640" y2="1680.7" stroke="#008000" stroke-width="2"/><text x="1656" y="1685.7" font-size="13.9">By'</text>
<line x1="1617.5" y1="1702.7" x2="1640" y2="1702.7" stroke="#00f" stroke-width="2"/><text x="1656" y="1707.7" font-size="13.9">Bz'</text>
<line x1="1617.5" y1="1725" x2="1640" y2="1725" stroke="#000" stroke-width="2"/><text x="1656" y="1730" font-size="13.9">|B|</text>

<rect class="lg" x="1611.5" y="1978.3" width="73.1" height="72.4"/>
<line x1="1620.7" y1="1991.7" x2="1642.6" y2="1991.7" stroke="#f00" stroke-width="2"/><text x="1659" y="1996.7" font-size="13.9">Vr</text>
<line x1="1620.7" y1="2013.7" x2="1642.6" y2="2013.7" stroke="#008000" stroke-width="2"/><text x="1659" y="2018.7" font-size="13.9">Vt</text>
<line x1="1620.7" y1="2036.7" x2="1642.6" y2="2036.7" stroke="#00f" stroke-width="2"/><text x="1659" y="2041.7" font-size="13.9">Vn</text>

<rect class="lg" x="124.6" y="2980.3" width="71.4" height="26.4"/>
<line x1="135" y1="2992.7" x2="155.7" y2="2992.7" stroke="#00f" stroke-width="2"/><text x="170.7" y="2998" font-size="13.9">Tp</text>
</svg>
</body></html>
